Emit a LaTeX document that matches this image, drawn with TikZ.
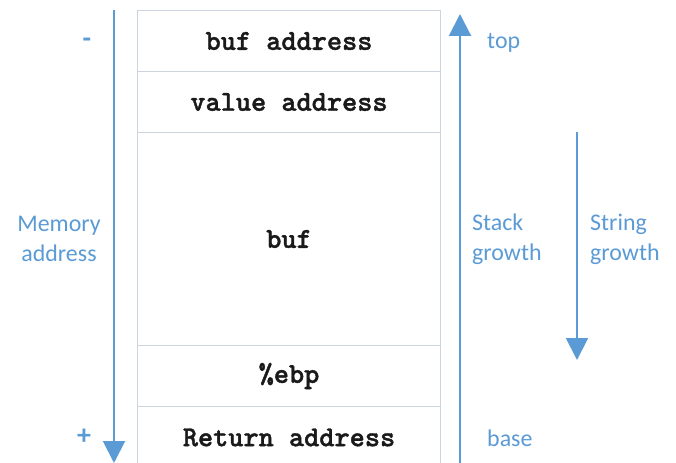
\documentclass[tikz,border=0pt]{standalone}
\usepackage{fontspec}
\setmainfont{Carlito}
\newfontfamily\codefont{lmmonolt10-bold.otf}[FakeBold=1.3]
\usetikzlibrary{arrows.meta}
\definecolor{accent}{HTML}{5B9BD5}
\definecolor{cellline}{HTML}{CBD5DF}
\definecolor{codeink}{HTML}{1A1A1A}
\tikzset{
  cell/.style={draw=cellline, line width=1bp, fill=white, minimum width=303bp,
    inner sep=0pt, anchor=north west, text=codeink,
    font=\codefont\fontsize{29}{32}\selectfont},
  note/.style={text=accent, inner sep=0pt, align=center,
    font=\fontsize{24}{30}\selectfont},
  sign/.style={text=accent, inner sep=0pt, font=\bfseries\fontsize{28}{30}\selectfont},
  growth/.style={draw=accent, line width=2bp, -{Triangle[width=22bp,length=22bp]}},
}
\begin{document}
\begin{tikzpicture}[x=1bp, y=-1bp]
  \clip (0,0) rectangle (676,463);
  \fill[white] (0,0) rectangle (676,463);

  % stack frame cells, top to bottom
  \node[cell, minimum height=61bp]  (c1) at (137,10)  {buf address};
  \node[cell, minimum height=61bp]  (c2) at (137,71)  {value address};
  \node[cell, minimum height=213bp] (c3) at (137,132) {buf};
  \node[cell, minimum height=61bp]  (c4) at (137,345) {\%ebp};
  \node[cell, minimum height=62bp]  (c5) at (137,406) {Return address};

  % direction arrows
  \coordinate (memtop) at (114,10);
  \coordinate (membot) at (114,463);
  \draw[growth] (memtop) -- (membot);

  \coordinate (stackbot) at (460,463);
  \coordinate (stacktop) at (460,14);
  \draw[growth] (stackbot) -- (stacktop);

  \coordinate (strtop) at (577,132);
  \coordinate (strbot) at (577,360);
  \draw[growth] (strtop) -- (strbot);

  % labels
  \node[sign] (minus) at (87,43) {-};
  \node[sign] (plus) at (84,437) {+};
  \node[note] (mem) at (59,239) {Memory\\address};
  \node[note, anchor=west] (top) at (487,43) {top};
  \node[note, anchor=west] (base) at (487,438) {base};
  \node[note, align=left, anchor=west] (stack) at (472,239) {Stack\\growth};
  \node[note, align=left, anchor=west] (string) at (590,239) {String\\growth};
\end{tikzpicture}
\end{document}
